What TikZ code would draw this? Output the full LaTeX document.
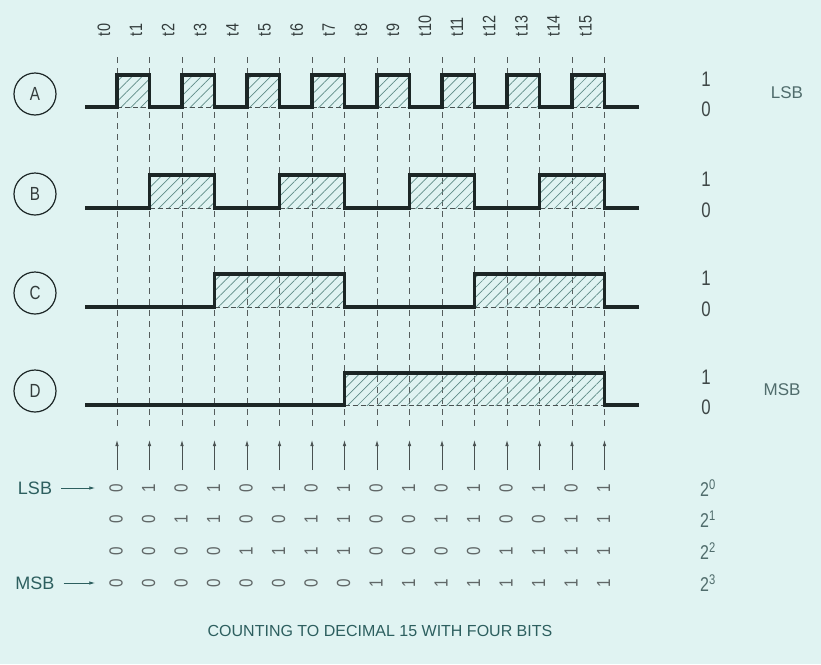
\documentclass[tikz,border=0pt]{standalone}
\usepackage{fontspec}
\setmainfont{Liberation Sans}
\newfontfamily\narrowfont[FakeStretch=0.8]{Liberation Sans}
\usetikzlibrary{patterns.meta,arrows.meta}
\definecolor{paper}{RGB}{224,243,242}
\definecolor{ink}{RGB}{28,38,38}
\definecolor{txtgray}{RGB}{80,108,108}
\definecolor{sidetxt}{RGB}{45,95,95}
\definecolor{hatchc}{RGB}{95,140,135}
\begin{document}
\begin{tikzpicture}[x=1pt,y=-1pt,inner sep=0pt,outer sep=0pt,
declare function={tx(\i)=117+32.5*\i;},
>={Latex[length=6pt,width=3.5pt]},
wave/.style={line width=3.2pt,draw=ink,line join=miter},
gridline/.style={dash pattern=on 6pt off 5pt,line width=0.8pt,draw=ink!75},
lowdash/.style={dash pattern=on 5pt off 3pt,line width=0.9pt,draw=ink!80},
hatched/.style={pattern={Lines[angle=45,distance=7pt,line width=0.7pt]},pattern color=hatchc},
sig/.style={draw=ink,circle,line width=1.2pt,minimum size=42pt,text=ink!90,font=\narrowfont\fontsize{19}{19}\selectfont},
lvl/.style={text=ink!85,font=\narrowfont\fontsize{21}{21}\selectfont},
pow/.style={text=txtgray,font=\narrowfont\fontsize{20}{20}\selectfont},
tag/.style={text=txtgray,font=\fontsize{17}{17}\selectfont},
side/.style={text=sidetxt,font=\fontsize{18}{18}\selectfont},
tlab/.style={text=ink!90,rotate=90,anchor=west,font=\narrowfont\fontsize{18}{18}\selectfont},
bit/.style={text=ink!70,rotate=90,font=\narrowfont\fontsize{19}{19}\selectfont},
captext/.style={text=sidetxt,font=\fontsize{16}{16}\selectfont}]
\useasboundingbox[fill=paper] (0,0) rectangle (821,664);

% time labels and dashed time lines
\foreach \i in {0,...,15} {
  \node[tlab] (t\i) at ({104+32.1*\i},36) {t\i};
  \draw[gridline] ({tx(\i)},57) -- ({tx(\i)},428);
}

% signal A
\foreach \a/\b in {0/1,2/3,4/5,6/7,8/9,10/11,12/13,14/15} {
  \fill[hatched] ({tx(\a)},75) rectangle ({tx(\b)},107);
  \draw[lowdash] ({tx(\a)},107) -- ({tx(\b)},107);
}
\draw[wave] (85,107) \foreach \a/\b in {0/1,2/3,4/5,6/7,8/9,10/11,12/13,14/15} {
  -- ({tx(\a)},107) |- ({tx(\b)},75) -- ({tx(\b)},107)} -- (639,107);
\node[sig] (sigA) at (35,94) {A};
\node[lvl] (oneA) at (706,79) {1};
\node[lvl] (zeroA) at (706,109) {0};
\node[tag] (lsbA) at (787,93) {LSB};

% signal B
\foreach \a/\b in {1/3,5/7,9/11,13/15} {
  \fill[hatched] ({tx(\a)},175) rectangle ({tx(\b)},208);
  \draw[lowdash] ({tx(\a)},208) -- ({tx(\b)},208);
}
\draw[wave] (85,208) \foreach \a/\b in {1/3,5/7,9/11,13/15} {
  -- ({tx(\a)},208) |- ({tx(\b)},175) -- ({tx(\b)},208)} -- (639,208);
\node[sig] (sigB) at (35,194) {B};
\node[lvl] (oneB) at (706,179) {1};
\node[lvl] (zeroB) at (706,210) {0};

% signal C
\foreach \a/\b in {3/7,11/15} {
  \fill[hatched] ({tx(\a)},274) rectangle ({tx(\b)},307);
  \draw[lowdash] ({tx(\a)},307) -- ({tx(\b)},307);
}
\draw[wave] (85,307) \foreach \a/\b in {3/7,11/15} {
  -- ({tx(\a)},307) |- ({tx(\b)},274) -- ({tx(\b)},307)} -- (639,307);
\node[sig] (sigC) at (35,293) {C};
\node[lvl] (oneC) at (706,278) {1};
\node[lvl] (zeroC) at (706,309) {0};

% signal D
\fill[hatched] ({tx(7)},373) rectangle ({tx(15)},405);
\draw[lowdash] ({tx(7)},405) -- ({tx(15)},405);
\draw[wave] (85,405) -- ({tx(7)},405) |- ({tx(15)},373) -- ({tx(15)},405) -- (639,405);
\node[sig] (sigD) at (35,391) {D};
\node[lvl] (oneD) at (706,377) {1};
\node[lvl] (zeroD) at (706,407) {0};
\node[tag] (msbD) at (782,390) {MSB};

% read-out arrows and bit table
\foreach \i in {0,...,15}
  \draw[->,line width=0.8pt,draw=ink!80] ({tx(\i)},470) -- ({tx(\i)},440);
\foreach \r/\y in {0/488,1/519,2/551,3/583} {
  \foreach \i in {0,...,15} {
    \pgfmathtruncatemacro\bitval{mod(floor(\i/2^\r),2)}
    \node[bit] (b\r-\i) at ({tx(\i)-1},\y) {\bitval};
  }
  \node[pow] (pw\r) at (708,\y) {2\textsuperscript{\r}};
}
\node[side] (lsb) at (35,488) {LSB};
\node[side] (msb) at (35,583) {MSB};
\draw[->,line width=0.9pt,draw=sidetxt,shorten <=9pt,shorten >=14pt] (lsb) -- (b0-0);
\draw[->,line width=0.9pt,draw=sidetxt,shorten <=9pt,shorten >=14pt] (msb) -- (b3-0);

\node[captext] (caption) at (380,631) {COUNTING TO DECIMAL 15 WITH FOUR BITS};
\end{tikzpicture}
\end{document}
